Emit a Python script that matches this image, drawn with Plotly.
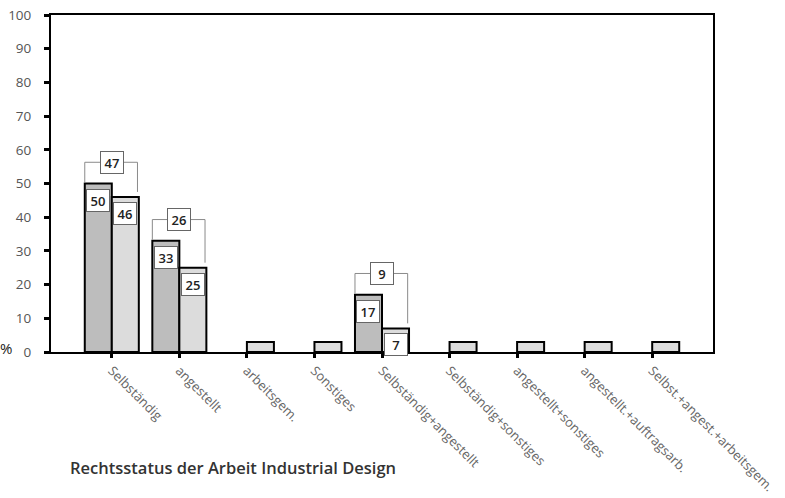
import plotly.graph_objects as go

categories = ["Selbständig", "angestellt", "arbeitsgem.", "Sonstiges",
              "Selbständig+angestellt", "Selbständig+sonstiges",
              "angestellt+sonstiges", "angestellt.+auftragsarb.",
              "Selbst.+angest.+arbeitsgem."]
series_a = [50, 33, None, None, 17, None, None, None, None]   # dark bars
series_b = [46, 25, 3, 3, 7, 3, 3, 3, 3]                     # light bars
label_a = ["50", "33", None, None, "17", None, None, None, None]
label_b = ["46", "25", None, None, "7", None, None, None, None]
bracket_labels = ["47", "26", None, None, "9", None, None, None, None]
y_ticks = [0, 10, 20, 30, 40, 50, 60, 70, 80, 90, 100]

xs = list(range(len(categories)))
font_family = "Open Sans, Lato, DejaVu Sans, sans-serif"

fig = go.Figure()
fig.add_trace(go.Bar(x=xs, y=series_a, marker=dict(color="#bdbdbd", line=dict(color="black", width=2))))
fig.add_trace(go.Bar(x=xs, y=series_b, marker=dict(color="#dcdcdc", line=dict(color="black", width=2))))

annotations = []
shapes = []
box = dict(bgcolor="white", bordercolor="#666666", borderwidth=1, borderpad=2,
           width=18, height=17, showarrow=False,
           font=dict(family=font_family, size=13, color="#222222", weight=600))
for i in xs:
    if label_a[i] is not None:
        annotations.append(dict(x=i - 0.2, y=series_a[i] - 1.5, xref="x", yref="y",
                                text=label_a[i], yanchor="top", **box))
    if label_b[i] is not None:
        annotations.append(dict(x=i + 0.2, y=series_b[i] - 1.5, xref="x", yref="y",
                                text=label_b[i], yanchor="top", **box))
    if bracket_labels[i] is not None:
        top = max(series_a[i], series_b[i]) + 6.3
        xl, xr = i - 0.4, i + 0.38
        ln = dict(color="#8a8a8a", width=1)
        shapes.append(dict(type="line", xref="x", yref="y", x0=xl, x1=xr, y0=top, y1=top, line=ln))
        shapes.append(dict(type="line", xref="x", yref="y", x0=xl, x1=xl, y0=top, y1=series_a[i] + 0.3, line=ln))
        shapes.append(dict(type="line", xref="x", yref="y", x0=xr, x1=xr, y0=top, y1=series_b[i] + 1.5, line=ln))
        annotations.append(dict(x=i, y=top, xref="x", yref="y", text=bracket_labels[i],
                                yanchor="middle", **box))

annotations.append(dict(x=0, y=0, xref="paper", yref="y", text="%", showarrow=False,
                        xshift=-53, xanchor="left", yanchor="middle", yshift=4,
                        font=dict(family=font_family, size=15, color="#222222")))
annotations.append(dict(x=(68 - 51) / (713 - 51), y=(352 - 467) / (352 - 15),
                        xref="paper", yref="paper",
                        text="Rechtsstatus der Arbeit Industrial Design", showarrow=False,
                        xanchor="left", yanchor="middle",
                        font=dict(family=font_family, size=16.5, color="#333333", weight=600)))

fig.update_layout(
    width=785, height=498,
    margin=dict(l=51, r=72, t=15, b=146, autoexpand=False),
    plot_bgcolor="white", paper_bgcolor="white",
    barmode="group", bargap=0.2, bargroupgap=0,
    showlegend=False,
    shapes=shapes, annotations=annotations,
    font=dict(family=font_family),
)
fig.update_xaxes(range=[-0.9, 8.9], tickmode="array", tickvals=xs, ticktext=categories,
                 tickangle=45, ticks="outside", ticklen=4, tickwidth=3, tickcolor="black",
                 showline=True, linecolor="black", linewidth=2, mirror=True,
                 showgrid=False, zeroline=False, automargin=False,
                 tickfont=dict(family=font_family, size=13, color="#666666"))
fig.update_yaxes(range=[0, 100], tickmode="array", tickvals=y_ticks,
                 ticks="outside", ticklen=5, tickwidth=3, tickcolor="black",
                 showline=True, linecolor="black", linewidth=2, mirror=True,
                 showgrid=False, zeroline=False, ticklabelstandoff=10, automargin=False,
                 tickfont=dict(family=font_family, size=13.5, color="#555555"))

fig.write_html("out.html", config={"displayModeBar": False},
               post_script="document.body.style.margin='0';document.body.style.overflow='hidden';")
